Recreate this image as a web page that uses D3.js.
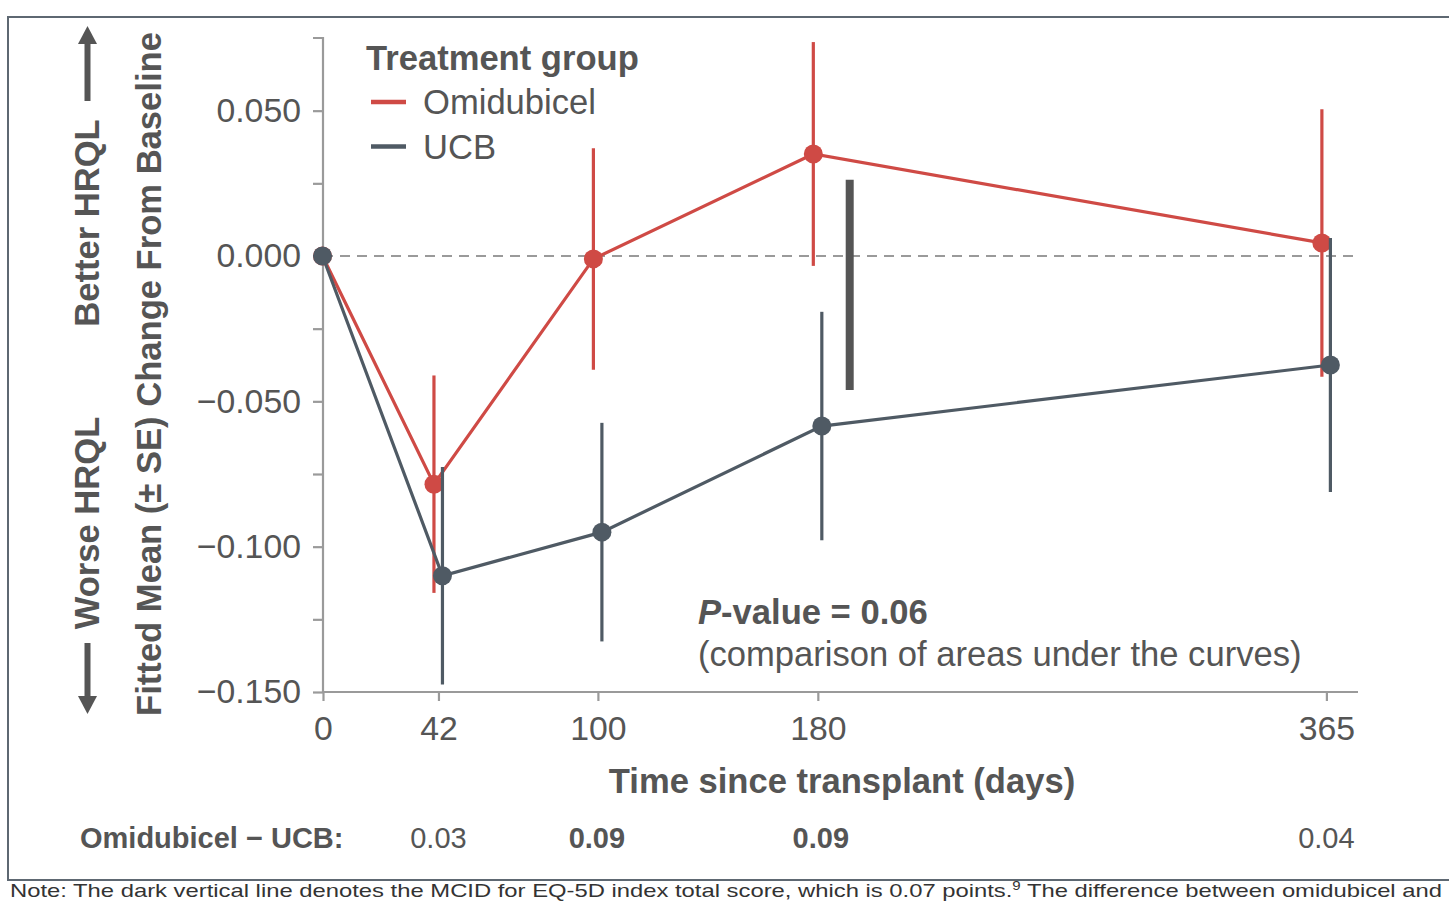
<!DOCTYPE html>
<html>
<head>
<meta charset="utf-8">
<script src="https://cdn.jsdelivr.net/npm/d3@7"></script>
<style>
  html, body { margin: 0; padding: 0; background: #fff; }
  svg { display: block; font-family: "Liberation Sans", Arial, sans-serif; }
</style>
</head>
<body>
<svg id="chart" width="1449" height="901"></svg>
<script>
// ---- data ----
const days = [0, 42, 100, 180, 365];
const xTickLabels = ["0", "42", "100", "180", "365"];
const yTicks = [0.05, 0, -0.05, -0.10, -0.15];
const yTickLabels = ["0.050", "0.000", "\u22120.050", "\u22120.100", "\u22120.150"];
const yMinorTicks = [0.025, -0.025, -0.075, -0.125];
const omiMean = [0, -0.0785, -0.001, 0.0351, 0.0045];
const omiSE   = [0, 0.0374, 0.0381, 0.0385, 0.0460];
const ucbMean = [0, -0.110, -0.095, -0.0585, -0.0375];
const ucbSE   = [0, 0.0374, 0.0376, 0.0393, 0.0437];
const seriesNames = ["Omidubicel", "UCB"];
const diffLabels = ["0.03", "0.09", "0.09", "0.04"];
const diffBold = [false, true, true, false];
const diffDays = [42, 100, 180, 365];
const mcidDay = 191.6;
const mcidRange = [0.0262, -0.0461];

// ---- styles ----
const RED = "#cf4a45", SLATE = "#4f5a64", TXT = "#555555", AXIS = "#9a9a9a";
const BIG = "34.6px";

const svg = d3.select("#chart");
const x = d3.scaleLinear().domain([0, 376.5]).range([323, 1358]);
const y = d3.scaleLinear().domain([-0.15, 0.075]).range([692, 38]);

// frame
svg.append("rect").attr("x", 8).attr("y", 17).attr("width", 1460).attr("height", 863)
  .attr("fill", "none").attr("stroke", "#5e6872").attr("stroke-width", 2);

// zero dashed line
svg.append("line").attr("x1", x(0)).attr("x2", x(376.5)).attr("y1", y(0)).attr("y2", y(0))
  .attr("stroke", AXIS).attr("stroke-width", 2.2).attr("stroke-dasharray", "10,7");

// y axis
const yAxis = d3.axisLeft(y).tickValues(yTicks).tickFormat((d, i) => yTickLabels[i]).tickSize(10).tickPadding(12);
const gy = svg.append("g").attr("transform", `translate(${x(0)},0)`).call(yAxis);
gy.select(".domain").attr("stroke", AXIS).attr("stroke-width", 2.2).attr("d", `M-10,${y(0.075)}H0V${y(-0.15)}`);
gy.selectAll(".tick line").attr("stroke", AXIS).attr("stroke-width", 2.2);
gy.selectAll(".tick text").attr("fill", TXT).style("font-size", "33.8px").style("font-family", "Liberation Sans, Arial, sans-serif");
const gym = svg.append("g").attr("transform", `translate(${x(0)},0)`)
  .call(d3.axisLeft(y).tickValues(yMinorTicks).tickFormat("").tickSize(10));
gym.select(".domain").remove();
gym.selectAll(".tick line").attr("stroke", AXIS).attr("stroke-width", 2.2);

// x axis
const xAxis = d3.axisBottom(x).tickValues(days).tickFormat((d, i) => xTickLabels[i]).tickSize(9).tickPadding(15);
const gx = svg.append("g").attr("transform", `translate(0,${y(-0.15)})`).call(xAxis);
gx.select(".domain").attr("stroke", AXIS).attr("stroke-width", 2.2).attr("d", `M${x(0)},0H${x(376.5)}`);
gx.selectAll(".tick line").attr("stroke", AXIS).attr("stroke-width", 2.2);
gx.selectAll(".tick text").attr("fill", TXT).style("font-size", "33.8px").style("font-family", "Liberation Sans, Arial, sans-serif");

// series
const series = [
  { name: seriesNames[0], mean: omiMean, se: omiSE, color: RED, dx: -4.5 },
  { name: seriesNames[1], mean: ucbMean, se: ucbSE, color: SLATE, dx: 4 }
];
series.forEach(s => {
  const pts = days.map((d, i) => ({ d, m: s.mean[i], se: s.se[i], dx: i === 0 ? -0.5 : s.dx }));
  const g = svg.append("g");
  g.selectAll("line.err").data(pts.filter(p => p.se > 0)).enter().append("line")
    .attr("x1", p => x(p.d) + p.dx).attr("x2", p => x(p.d) + p.dx)
    .attr("y1", p => y(p.m + p.se)).attr("y2", p => y(p.m - p.se))
    .attr("stroke", s.color).attr("stroke-width", 3.2);
  g.append("path").datum(pts)
    .attr("d", d3.line().x(p => x(p.d) + p.dx).y(p => y(p.m)))
    .attr("fill", "none").attr("stroke", s.color).attr("stroke-width", 3.2);
  g.selectAll("circle").data(pts).enter().append("circle")
    .attr("cx", p => x(p.d) + p.dx).attr("cy", p => y(p.m)).attr("r", 9.5)
    .attr("fill", s.color);
});

// MCID bar
svg.append("line").attr("x1", x(mcidDay)).attr("x2", x(mcidDay))
  .attr("y1", y(mcidRange[0])).attr("y2", y(mcidRange[1]))
  .attr("stroke", "#555555").attr("stroke-width", 8);

// legend
svg.append("text").attr("x", 366).attr("y", 70).attr("fill", TXT)
  .style("font-size", BIG).style("font-weight", "bold").text("Treatment group");
series.forEach((s, i) => {
  const yy = 102 + i * 44.5;
  svg.append("line").attr("x1", 371).attr("x2", 406).attr("y1", yy).attr("y2", yy)
    .attr("stroke", s.color).attr("stroke-width", 4.5);
  svg.append("text").attr("x", 423).attr("y", yy + 12).attr("fill", TXT)
    .style("font-size", BIG).text(s.name);
});

// p-value annotation
const pv = svg.append("text").attr("x", 698).attr("y", 624).attr("fill", TXT)
  .style("font-size", BIG).style("font-weight", "bold");
pv.append("tspan").style("font-style", "italic").text("P");
pv.append("tspan").text("-value = 0.06");
svg.append("text").attr("x", 698).attr("y", 666).attr("fill", TXT)
  .style("font-size", BIG).text("(comparison of areas under the curves)");

// x axis title
svg.append("text").attr("x", 842).attr("y", 793).attr("text-anchor", "middle").attr("fill", TXT)
  .style("font-size", BIG).style("font-weight", "bold").text("Time since transplant (days)");

// y axis title
svg.append("text").attr("transform", "translate(161,374) rotate(-90)").attr("text-anchor", "middle")
  .attr("fill", TXT).style("font-size", BIG).style("font-weight", "bold")
  .text("Fitted Mean (\u00b1 SE) Change From Baseline");

// Better / Worse labels
svg.append("text").attr("transform", "translate(99,223) rotate(-90)").attr("text-anchor", "middle")
  .attr("fill", TXT).style("font-size", BIG).style("font-weight", "bold").text("Better HRQL");
svg.append("text").attr("transform", "translate(99,523) rotate(-90)").attr("text-anchor", "middle")
  .attr("fill", TXT).style("font-size", BIG).style("font-weight", "bold").text("Worse HRQL");

// arrows
const ARW = "#555555";
svg.append("line").attr("x1", 87.5).attr("x2", 87.5).attr("y1", 101).attr("y2", 40).attr("stroke", ARW).attr("stroke-width", 6);
svg.append("path").attr("d", "M78,44 L87.5,26 L97,44 Z").attr("fill", ARW);
svg.append("line").attr("x1", 87.5).attr("x2", 87.5).attr("y1", 643).attr("y2", 700).attr("stroke", ARW).attr("stroke-width", 6);
svg.append("path").attr("d", "M78,696 L87.5,714 L97,696 Z").attr("fill", ARW);

// difference row
svg.append("text").attr("x", 80).attr("y", 848).attr("fill", TXT)
  .style("font-size", "29px").style("font-weight", "bold").text("Omidubicel \u2212 UCB:");
svg.selectAll("text.diff").data(diffDays).enter().append("text")
  .attr("class", "diff")
  .attr("x", (d, i) => x(d) + (i === 0 ? 0 : i === 1 ? -1 : i === 2 ? 3 : 0))
  .attr("y", 848).attr("text-anchor", "middle").attr("fill", TXT)
  .style("font-size", "29px").style("font-weight", (d, i) => diffBold[i] ? "bold" : "normal")
  .text((d, i) => diffLabels[i]);

// note (bottom line)
const note = svg.append("text").attr("x", 10).attr("y", 897).attr("fill", "#333")
  .style("font-size", "19px").attr("textLength", 1432).attr("lengthAdjust", "spacingAndGlyphs");
note.append("tspan").text("Note: The dark vertical line denotes the MCID for EQ-5D index total score, which is 0.07 points.");
note.append("tspan").attr("dy", -7).style("font-size", "12px").text("9");
note.append("tspan").attr("dy", 7).text(" The difference between omidubicel and");
</script>
</body>
</html>
